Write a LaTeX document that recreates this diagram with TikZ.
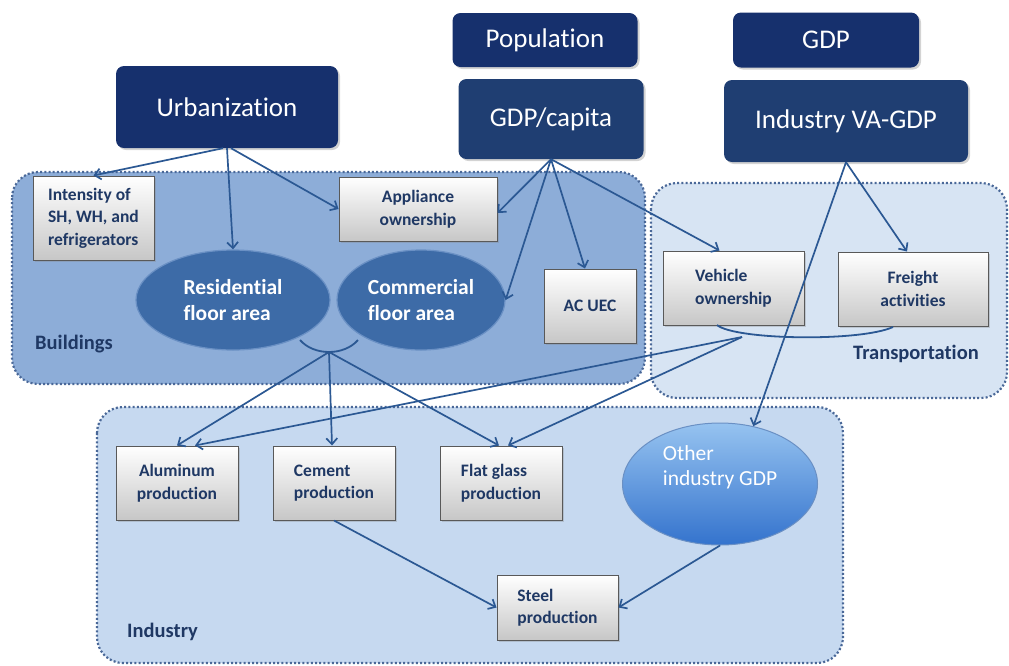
\documentclass[tikz,border=0pt]{standalone}
\usepackage{fontspec}
\setmainfont{Carlito}[Ligatures=NoCommon]
\usetikzlibrary{arrows.meta,shadows,shapes.geometric}
\definecolor{navyA}{HTML}{16306D}
\definecolor{navyB}{HTML}{1F3E72}
\definecolor{bldfill}{HTML}{8DADD8}
\definecolor{trfill}{HTML}{D7E4F3}
\definecolor{indfill}{HTML}{C6D9F0}
\definecolor{dotcol}{HTML}{4A6898}
\definecolor{linecol}{HTML}{2B5893}
\definecolor{txtblue}{HTML}{1F3864}
\definecolor{ellfill}{HTML}{3D6BA7}
\definecolor{ellbord}{HTML}{6A90C4}
\definecolor{othtop}{HTML}{96C3F0}
\definecolor{othbot}{HTML}{3473CD}
\tikzset{
  topbox/.style={rounded corners=8pt, fill=#1, text=white, inner sep=0pt,
    font=\fontsize{27}{31}\selectfont, drop shadow={opacity=0.35,shadow xshift=2pt,shadow yshift=-2pt}},
  graybox/.style={draw=black!65, line width=1pt, top color=white, bottom color=black!22,
    text=txtblue, inner sep=0pt, font=\bfseries\fontsize{17.5}{22.5}\selectfont, align=center,
    drop shadow={opacity=0.3,shadow xshift=2pt,shadow yshift=-2pt}},
  bellipse/.style={ellipse, draw=ellbord, line width=1.2pt, fill=ellfill, text=white, inner sep=0pt,
    font=\bfseries\fontsize{21.5}{26}\selectfont, align=left},
  region/.style={rounded corners=26pt, draw=dotcol, line width=2.2pt, dash pattern=on 2pt off 2.2pt},
  regionlabel/.style={text=txtblue, font=\bfseries\fontsize{20.5}{24}\selectfont, anchor=west, inner sep=0pt},
  arr/.style={draw=linecol, line width=1.7pt, -{Straight Barb[length=6pt,width=11pt]}},
  brk/.style={draw=linecol, line width=1.8pt}
}
\begin{document}
\begin{tikzpicture}[x=1pt,y=-1pt]
\useasboundingbox (0,0) rectangle (1009,665);
% regions
\path[region, fill=bldfill] (12,172) rectangle (645,384);
\path[region, fill=trfill] (651,183) rectangle (1007,398);
\path[region, fill=indfill] (97,407) rectangle (843,663);
\node[regionlabel] (lbld) at (35,344) {Buildings};
\node[regionlabel] (ltr) at (853,354) {Transportation};
\node[regionlabel] (lind) at (127,632) {Industry};
% top boxes
\node[topbox=navyA, minimum width=222pt, minimum height=82pt] (urb) at (227,107) {Urbanization};
\node[topbox=navyA, minimum width=185pt, minimum height=54pt] (pop) at (545,40) {Population};
\node[topbox=navyB, minimum width=185pt, minimum height=80pt] (gdpc) at (551,119) {GDP/capita};
\node[topbox=navyA, minimum width=186pt, minimum height=55pt] (gdp) at (826,40) {GDP};
\node[topbox=navyB, minimum width=244pt, minimum height=82pt] (iva) at (846,121) {Industry VA-GDP};
% buildings
\node[graybox, minimum width=121pt, minimum height=84pt, align=left] (int) at (93.5,218) {Intensity of\\SH, WH, and\\refrigerators};
\node[graybox, minimum width=158pt, minimum height=64pt] (app) at (418,209) {Appliance\\ownership};
\node[bellipse, minimum width=194pt, minimum height=100pt] (res) at (233,300) {Residential\\floor area};
\node[bellipse, minimum width=168pt, minimum height=100pt] (com) at (421,300) {Commercial\\floor area};
\node[graybox, minimum width=92pt, minimum height=74pt] (ac) at (590,306) {AC UEC};
% transportation
\node[graybox, minimum width=141pt, minimum height=74pt, align=left] (veh) at (733.5,288) {Vehicle\\ownership};
\node[graybox, minimum width=150pt, minimum height=74pt] (fre) at (913,289) {Freight\\activities};
% industry
\node[graybox, minimum width=122pt, minimum height=74pt] (alu) at (177,483) {Aluminum\\production};
\node[graybox, minimum width=122pt, minimum height=74pt, align=left] (cem) at (334,483) {Cement\\production};
\node[graybox, minimum width=122pt, minimum height=74pt, align=left] (fla) at (501,483) {Flat glass\\production};
\node[ellipse, minimum width=195pt, minimum height=122pt, inner sep=0pt, draw=ellbord, line width=1pt,
  top color=othtop, bottom color=othbot,
  text=white, font=\fontsize{21.5}{25}\selectfont, align=left] (oth) at (720,484) {Other\\industry GDP\\[12pt]};
\node[graybox, minimum width=121pt, minimum height=65pt, align=left] (ste) at (557.5,607.5) {Steel\\production};
% brackets
\draw[brk] (300,340) .. controls (314,356) and (344,356) .. (358,340);
\coordinate (b1) at (329,352);
\draw[brk] (717,325) .. controls (735,340) and (860,342) .. (893,327);
\coordinate (t1) at (742,337);
% arrows from top
\draw[arr] ([xshift=-4pt]urb.south) -- ([xshift=0pt]int.north);
\draw[arr] (urb.south) -- ([xshift=0pt]res.north);
\draw[arr] ([xshift=4pt]urb.south) -- (app.west);
\draw[arr] (gdpc.south) -- ([yshift=-4pt]app.east);
\draw[arr] (gdpc.south) -- (com.east);
\draw[arr] (gdpc.south) -- ([xshift=-5pt]ac.north);
\draw[arr] (gdpc.south) -- ([xshift=-14pt]veh.north);
\draw[arr] (iva.south) -- ([xshift=-6pt]fre.north);
\draw[arr] (iva.south) -- (oth.60);
% from brackets
\draw[arr] (b1) -- ([xshift=0pt]alu.north);
\draw[arr] (b1) -- ([xshift=-2pt]cem.north);
\draw[arr] (b1) -- ([xshift=-2pt]fla.north);
\draw[arr] (t1) -- ([xshift=18pt]alu.north);
\draw[arr] (t1) -- ([xshift=7pt]fla.north);
% into steel
\draw[arr] (cem.south) -- (ste.west);
\draw[arr] (oth.south) -- (ste.east);
\end{tikzpicture}
\end{document}
